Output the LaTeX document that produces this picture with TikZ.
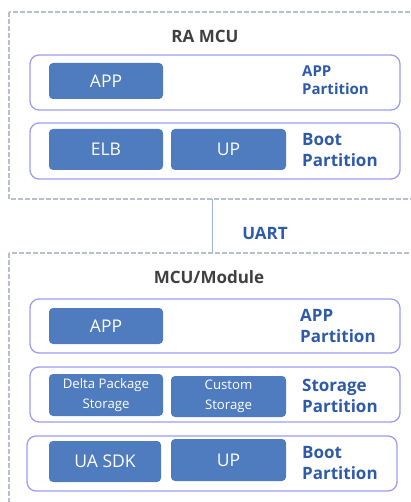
\documentclass[tikz,border=0pt]{standalone}
\usepackage{fontspec}
\setmainfont{Open Sans}
\definecolor{dashc}{HTML}{B8C0CE}
\definecolor{partc}{HTML}{9C9CF2}
\definecolor{boxc}{HTML}{4F7BBF}
\definecolor{bluet}{HTML}{2E5AAA}
\definecolor{grayt}{HTML}{404040}
\definecolor{linec}{HTML}{9DB3D6}
\begin{document}
\begin{tikzpicture}[x=1pt,y=-1pt,
  outer/.style={draw=dashc,line width=1.2pt,dash pattern=on 5pt off 2pt},
  part/.style={draw=partc,line width=1.3pt,rounded corners=9pt},
  blk/.style={fill=boxc,rounded corners=4pt,text=white,inner sep=0pt,align=center},
  blktxt/.style={font=\fontsize{17.5}{20}\selectfont},
  smtxt/.style={font=\fontsize{13.2}{19.5}\selectfont},
  lbl/.style={text=bluet,font=\bfseries\fontsize{17}{21}\selectfont,align=left,anchor=west,inner sep=0pt},
  lblsm/.style={text=bluet,font=\bfseries\fontsize{15}{18}\selectfont,align=left,anchor=west,inner sep=0pt},
  ttl/.style={text=grayt,font=\bfseries\fontsize{17}{20}\selectfont,inner sep=0pt}]
\useasboundingbox (0,0) rectangle (411,502);
% outer dashed boxes
\draw[outer] (9,12) rectangle (425,199);
\draw[outer] (9,253) rectangle (425,520);
\coordinate (topb) at (212,199);
\coordinate (botb) at (212,253);
\draw[linec,line width=1pt] (topb) -- (botb);
\node[text=bluet,font=\bfseries\fontsize{17}{20}\selectfont] (uart) at (265,233) {UART};
% RA MCU
\node[ttl] (t1) at (205,36) {RA MCU};
\draw[part] (30,55) rectangle (400,110);
\node[blk,blktxt,minimum width=114pt,minimum height=36pt] (app1) at (106,81) {APP};
\node[lblsm] (l1) at (302,80) {APP\\Partition};
\draw[part] (30,123) rectangle (400,179);
\node[blk,blktxt,minimum width=114pt,minimum height=41pt] (elb) at (106,149.5) {ELB};
\node[blk,blktxt,minimum width=115pt,minimum height=41pt] (up1) at (228.5,149.5) {UP};
\node[lbl] (l2) at (302,150) {Boot\\Partition};
% MCU/Module
\node[ttl] (t2) at (209,277) {MCU/Module};
\draw[part] (30,299) rectangle (400,353);
\node[blk,blktxt,minimum width=114pt,minimum height=36pt] (app2) at (106,326) {APP};
\node[lbl] (l3) at (300,326) {APP\\Partition};
\draw[part] (30,367) rectangle (400,422);
\node[blk,smtxt,minimum width=114pt,minimum height=42pt] (dps) at (106,395) {Delta Package\\Storage};
\node[blk,smtxt,minimum width=115pt,minimum height=41pt] (cs) at (228.5,396.5) {Custom\\Storage};
\node[lbl] (l4) at (302,395.5) {Storage\\Partition};
\draw[part] (27,436) rectangle (397,491);
\node[blk,blktxt,minimum width=112pt,minimum height=41pt] (uasdk) at (105,461.5) {UA SDK};
\node[blk,blktxt,minimum width=115pt,minimum height=42pt] (up2) at (228.5,460) {UP};
\node[lbl] (l5) at (302,463) {Boot\\Partition};
\end{tikzpicture}
\end{document}
